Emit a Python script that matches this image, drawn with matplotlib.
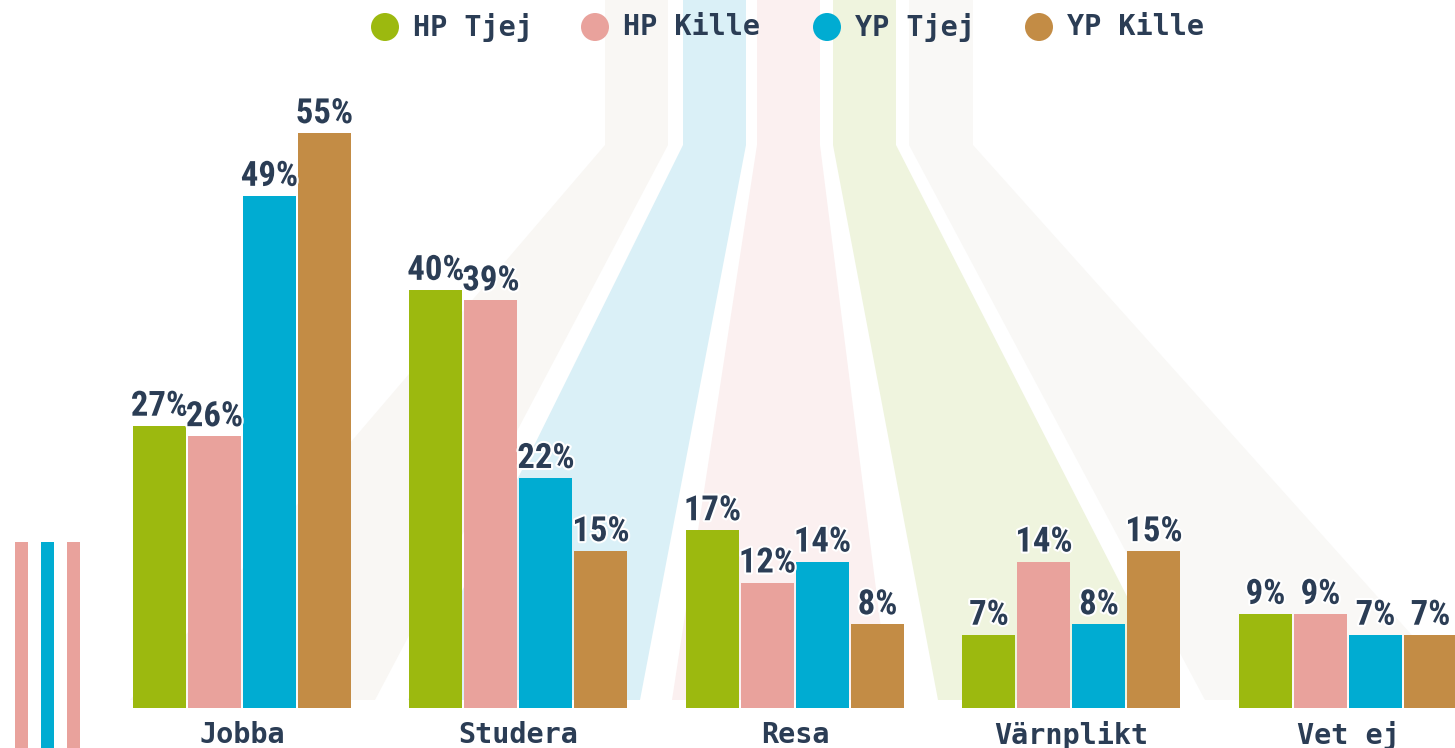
import matplotlib
matplotlib.use("Agg")
import matplotlib.pyplot as plt
from matplotlib import font_manager as fm
from matplotlib.patches import Polygon, Rectangle
import matplotlib.patheffects as pe
import numpy as np

# ---------------- data ----------------
categories = ["Jobba", "Studera", "Resa", "Värnplikt", "Vet ej"]
series_names = ["HP Tjej", "HP Kille", "YP Tjej", "YP Kille"]
hp_tjej = [27, 40, 17, 7, 9]
hp_kille = [26, 39, 12, 14, 9]
yp_tjej = [49, 22, 14, 8, 7]
yp_kille = [55, 15, 8, 15, 7]
series_values = [hp_tjej, hp_kille, yp_tjej, yp_kille]
colors = ["#9cb90f", "#e9a29c", "#00acd2", "#c38c45"]
text_color = "#2b3d55"

# ---------------- fonts ----------------
def pick_condensed():
    pref = ["Oswald", "Bebas Neue", "League Gothic", "Roboto Condensed",
            "Open Sans Condensed", "Liberation Sans Narrow", "Noto Sans",
            "DejaVu Sans", "Roboto", "Open Sans", "Lato", "Inter"]
    cond = ("condensed", "extra-condensed", "ultra-condensed", "semi-condensed")
    ents = fm.fontManager.ttflist
    def wnum(w):
        if isinstance(w, str):
            return fm.weight_dict.get(w, 400)
        return w
    for name in pref:
        best = None
        for f in ents:
            if f.name != name:
                continue
            is_cond = (str(f.stretch) in cond) or ("Condensed" in f.name) or ("Narrow" in f.name)
            if not is_cond:
                continue
            if f.style != "normal":
                continue
            w = wnum(f.weight)
            score = abs(w - 700)
            if best is None or score < best[0]:
                best = (score, f)
        if best is not None:
            return fm.FontProperties(fname=best[1].fname), best[1]
    return fm.FontProperties(family="DejaVu Sans", weight="bold"), None

label_fp, chosen = pick_condensed()

W, H = 1455, 748
fig = plt.figure(figsize=(W / 100, H / 100), dpi=100)
fig.patch.set_facecolor("white")

# ---------------- background decoration (pixel space) ----------------
bg = fig.add_axes([0, 0, 1, 1])
bg.set_xlim(0, W)
bg.set_ylim(H, 0)
bg.axis("off")
kink_y, bottom_y = 145, 700
funnels = [
    ((605, 668), (130, 375), "#f9f7f4"),
    ((683, 746), (408, 640), "#daf0f7"),
    ((757, 820), (672, 890), "#fbf0f0"),
    ((833, 896), (938, 1180), "#eff4de"),
    ((909, 973), (1205, 1470), "#f9f8f6"),
]
for (tl, tr), (bl, br), c in funnels:
    poly = Polygon([(tl, 0), (tr, 0), (tr, kink_y), (br, bottom_y),
                    (bl, bottom_y), (tl, kink_y)], closed=True,
                   facecolor=c, edgecolor="none")
    bg.add_patch(poly)

# left stripes
for x0, c in [(15, "#e9a29c"), (41, "#00acd2"), (67, "#e9a29c")]:
    bg.add_patch(Rectangle((x0, 542), 13, H - 542, facecolor=c, edgecolor="none"))

# ---------------- bars ----------------
ax = fig.add_axes([0, 0, 1, 1])
ax.patch.set_alpha(0)
ax.axis("off")
step_px = 276.5
g0_px = 242
px_per_pct = 10.45
base_px = H - 708
ax.set_xlim(-g0_px / step_px, (W - g0_px) / step_px)
ax.set_ylim(-base_px / px_per_pct, (H - base_px) / px_per_pct)

x = np.arange(len(categories))
bar_step = 55 / step_px
bar_w = 53 / step_px
offsets = (np.arange(4) - 1.5) * bar_step
for i, (vals, c) in enumerate(zip(series_values, colors)):
    ax.bar(x + offsets[i], vals, width=bar_w, color=c, edgecolor="none", zorder=3)
    for xi, v in zip(x + offsets[i], vals):
        ax.text(xi, v + 0.3, f"{v}%", ha="center", va="bottom",
                fontproperties=label_fp, fontsize=25, color=text_color, zorder=5,
                path_effects=[pe.withStroke(linewidth=3, foreground="white")])

for xi, cat in zip(x, categories):
    ax.text(xi, -base_px / px_per_pct + 13 / px_per_pct, cat, ha="center", va="center",
            family="DejaVu Sans Mono", weight="bold", fontsize=20.5, color=text_color)

# ---------------- legend ----------------
leg_y = 27
leg_circles = [385, 595, 827, 1039]
for cx, name, c in zip(leg_circles, series_names, colors):
    bg.scatter([cx], [leg_y], s=(28 * 0.72) ** 2, color=c, edgecolors="none", zorder=5)
    bg.text(cx + 28, leg_y, name, ha="left", va="center", family="DejaVu Sans Mono",
            weight="bold", fontsize=20.5, color=text_color, zorder=5)

fig.savefig("out.png", dpi=100, facecolor="white")
